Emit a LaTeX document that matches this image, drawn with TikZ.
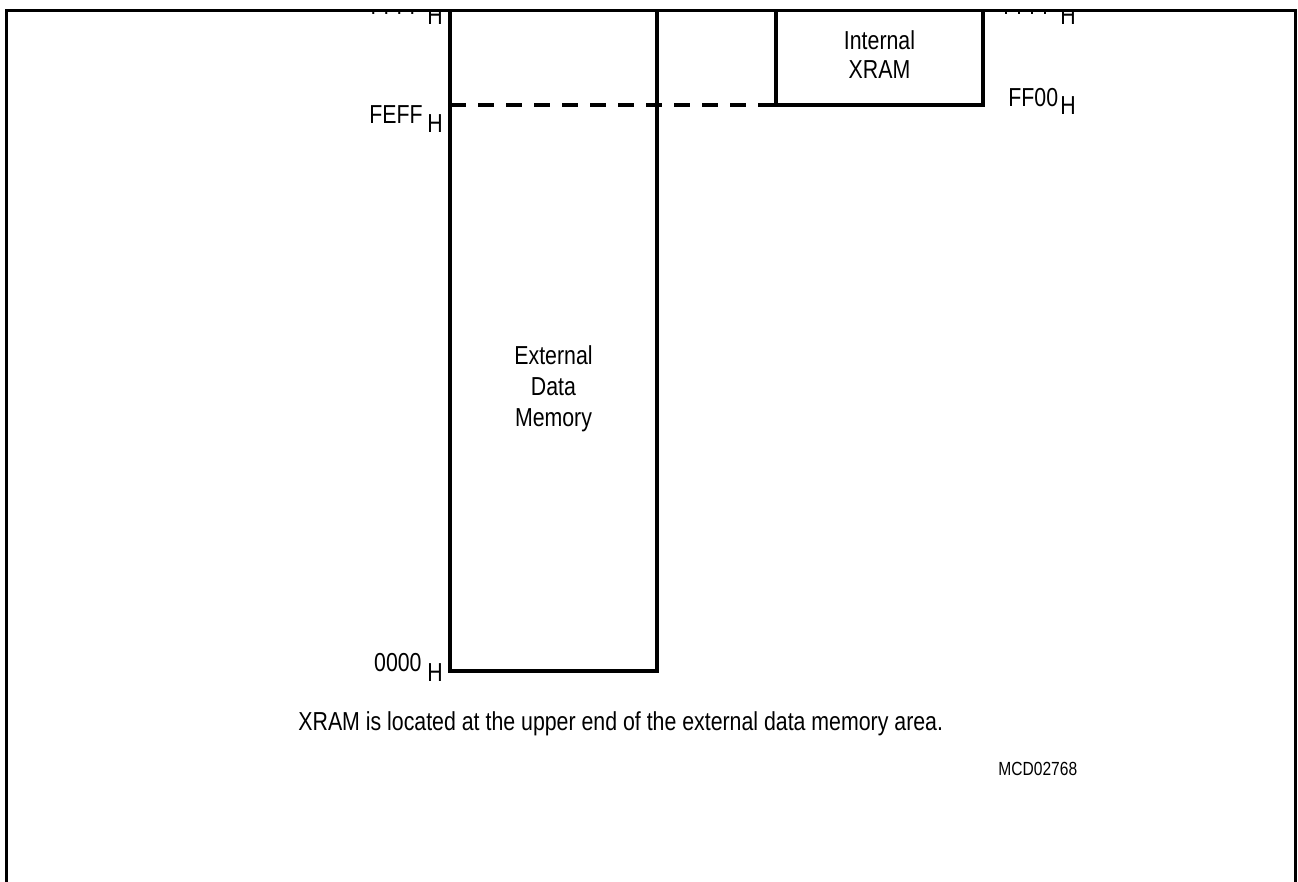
\documentclass[tikz,border=0pt]{standalone}
\usepackage{fontspec}
\setmainfont[FakeStretch=0.82]{Liberation Sans}
\begin{document}
\begin{tikzpicture}[x=0.5pt,y=-0.5pt,
  frameline/.style={line width=1.6pt},
  boxline/.style={line width=1.6pt},
  dashline/.style={line width=1.6pt, dash pattern=on 8pt off 6pt},
  lbl/.style={inner sep=0pt, font=\fontsize{13}{15.5}\selectfont},
  boxtext/.style={inner sep=0pt, align=center, font=\fontsize{13}{15.5}\selectfont},
  small/.style={inner sep=0pt, font=\fontsize{9.5}{11}\selectfont}]
\useasboundingbox (0,0) rectangle (1298,882);
% frame
\draw[frameline] (6.5,882) -- (6.5,10.5) -- (1295.5,10.5) -- (1295.5,882);
% external data memory box
\coordinate (extTL) at (450,10.5);
\coordinate (extBL) at (450,671);
\coordinate (extBR) at (657,671);
\coordinate (extTR) at (657,10.5);
\draw[boxline] (extTL) -- (extBL) -- (extBR) -- (extTR);
% internal xram box
\coordinate (xTL) at (776,10.5);
\coordinate (xBL) at (776,105);
\coordinate (xBR) at (983,105);
\coordinate (xTR) at (983,10.5);
\draw[boxline] (xTL) -- (xBL) -- (xBR) -- (xTR);
% dashed boundary
\coordinate (dL) at (450,105);
\draw[dashline] (dL) -- (xBL);
% box texts
\node[boxtext] (ext) at (553.5,389) {External\\Data\\Memory};
\node[boxtext, font=\fontsize{13}{14.5}\selectfont] (xram) at (879.5,55) {Internal\\XRAM};
% clipped top labels
\begin{scope}
\clip (0,12) rectangle (1298,882);
\node[lbl, anchor=base east] (ffffL) at (423,15) {FFFF};
\node[lbl, anchor=base west] (ffffLH) at (427,25) {H};
\node[lbl, anchor=base west] (ffffR) at (1003,15) {FFFF};
\node[lbl, anchor=base west] (ffffRH) at (1060,25) {H};
\end{scope}
% address labels
\node[lbl, anchor=base east] (feff) at (423,124) {FEFF};
\node[lbl, anchor=base west] (feffH) at (427,133) {H};
\node[lbl, anchor=base west] (ff00) at (1008,107) {FF00};
\node[lbl, anchor=base west] (ff00H) at (1060,115) {H};
\node[lbl, anchor=base east] (z) at (422,672) {0000};
\node[lbl, anchor=base west] (zH) at (427,682) {H};
% caption
\node[lbl, anchor=base west] (cap) at (298,731) {XRAM is located at the upper end of the external data memory area.};
\node[small, anchor=base west] (mcd) at (998,776) {MCD02768};
\end{tikzpicture}
\end{document}
